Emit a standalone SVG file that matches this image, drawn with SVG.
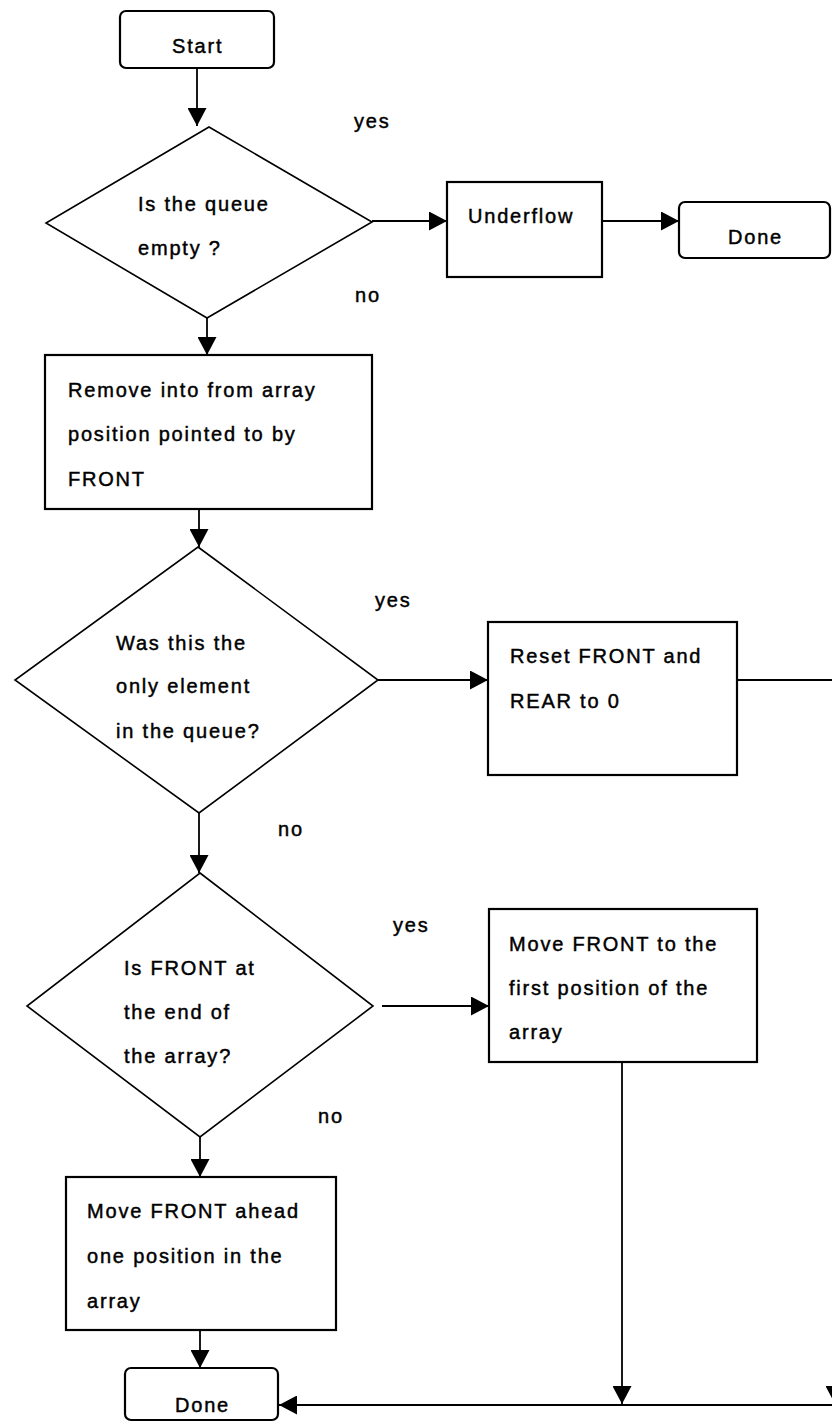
<svg xmlns="http://www.w3.org/2000/svg" width="832" height="1422" viewBox="0 0 832 1422">
  <style>
    .box { fill: #fff; stroke: #000; stroke-width: 2.2; }
    .dec { fill: #fff; stroke: #000; stroke-width: 1.6; stroke-linejoin: miter; }
    .lbl { font-family: "Liberation Sans", Arial, sans-serif; font-size: 20px; letter-spacing: 1.8px; fill: #000; stroke: #000; stroke-width: 0.45; }
    .edge { fill: none; stroke: #000; stroke-width: 1.8; }
  </style>
  <defs>
    <marker id="arrow" viewBox="0 0 18 19" refX="18" refY="9.5" markerWidth="18" markerHeight="19" markerUnits="userSpaceOnUse" orient="auto">
      <path d="M0,0 L18,9.5 L0,19 z" fill="#000"/>
    </marker>
  </defs>
  <rect width="832" height="1422" fill="#fff"/>

  <!-- connectors -->
  <g id="connectors">
    <path class="edge" d="M197,68 V126" marker-end="url(#arrow)"/>
    <path class="edge" d="M372,221 H447" marker-end="url(#arrow)"/>
    <path class="edge" d="M602,221 H679" marker-end="url(#arrow)"/>
    <path class="edge" d="M207,318 V355" marker-end="url(#arrow)"/>
    <path class="edge" d="M199,509 V547" marker-end="url(#arrow)"/>
    <path class="edge" d="M378,680 H488" marker-end="url(#arrow)"/>
    <path class="edge" d="M737,680 H835 V1404" marker-end="url(#arrow)"/>
    <path class="edge" d="M199,813 V873" marker-end="url(#arrow)"/>
    <path class="edge" d="M382,1006 H489" marker-end="url(#arrow)"/>
    <path class="edge" d="M200,1137 V1177" marker-end="url(#arrow)"/>
    <path class="edge" d="M200,1330 V1368" marker-end="url(#arrow)"/>
    <path class="edge" d="M622,1062 V1404" marker-end="url(#arrow)"/>
    <path class="edge" d="M840,1405 H279" marker-end="url(#arrow)"/>
  </g>

  <!-- terminals, decisions and process steps -->
  <g id="start">
    <rect class="box" x="120" y="11" width="154" height="57" rx="6"/>
    <text class="lbl" x="172" y="53">Start</text>
  </g>

  <g id="queue-empty">
    <polygon class="dec" points="209,127 372,222 207,318 46,223"/>
    <text class="lbl" x="138" y="211">Is the queue</text>
    <text class="lbl" x="138" y="255">empty ?</text>
  </g>

  <g id="underflow">
    <rect class="box" x="447" y="182" width="155" height="95"/>
    <text class="lbl" x="468" y="223">Underflow</text>
  </g>

  <g id="done-underflow">
    <rect class="box" x="679" y="202" width="151" height="56" rx="6"/>
    <text class="lbl" x="728" y="244">Done</text>
  </g>

  <g id="remove-front">
    <rect class="box" x="45" y="355" width="327" height="154"/>
    <text class="lbl" x="68" y="397">Remove into from array</text>
    <text class="lbl" x="68" y="441">position pointed to by</text>
    <text class="lbl" x="68" y="486">FRONT</text>
  </g>

  <g id="only-element">
    <polygon class="dec" points="198,547 378,680 199,813 15,680"/>
    <text class="lbl" x="116" y="650">Was this the</text>
    <text class="lbl" x="116" y="693">only element</text>
    <text class="lbl" x="116" y="738">in the queue?</text>
  </g>

  <g id="reset">
    <rect class="box" x="488" y="622" width="249" height="153"/>
    <text class="lbl" x="510" y="663">Reset FRONT and</text>
    <text class="lbl" x="510" y="708">REAR to 0</text>
  </g>

  <g id="front-at-end">
    <polygon class="dec" points="200,873 373,1006 200,1137 27,1006"/>
    <text class="lbl" x="124" y="975">Is FRONT at</text>
    <text class="lbl" x="124" y="1019">the end of</text>
    <text class="lbl" x="124" y="1063">the array?</text>
  </g>

  <g id="wrap-front">
    <rect class="box" x="489" y="909" width="268" height="153"/>
    <text class="lbl" x="509" y="951">Move FRONT to the</text>
    <text class="lbl" x="509" y="995">first position of the</text>
    <text class="lbl" x="509" y="1039">array</text>
  </g>

  <g id="advance-front">
    <rect class="box" x="66" y="1177" width="270" height="153"/>
    <text class="lbl" x="87" y="1218">Move FRONT ahead</text>
    <text class="lbl" x="87" y="1263">one position in the</text>
    <text class="lbl" x="87" y="1308">array</text>
  </g>

  <g id="done">
    <rect class="box" x="125" y="1368" width="153" height="52" rx="6"/>
    <text class="lbl" x="175" y="1412">Done</text>
  </g>

  <!-- branch labels -->
  <g id="branch-labels">
    <text class="lbl" x="354" y="128">yes</text>
    <text class="lbl" x="355" y="302">no</text>
    <text class="lbl" x="375" y="607">yes</text>
    <text class="lbl" x="278" y="836">no</text>
    <text class="lbl" x="393" y="932">yes</text>
    <text class="lbl" x="318" y="1123">no</text>
  </g>
</svg>
